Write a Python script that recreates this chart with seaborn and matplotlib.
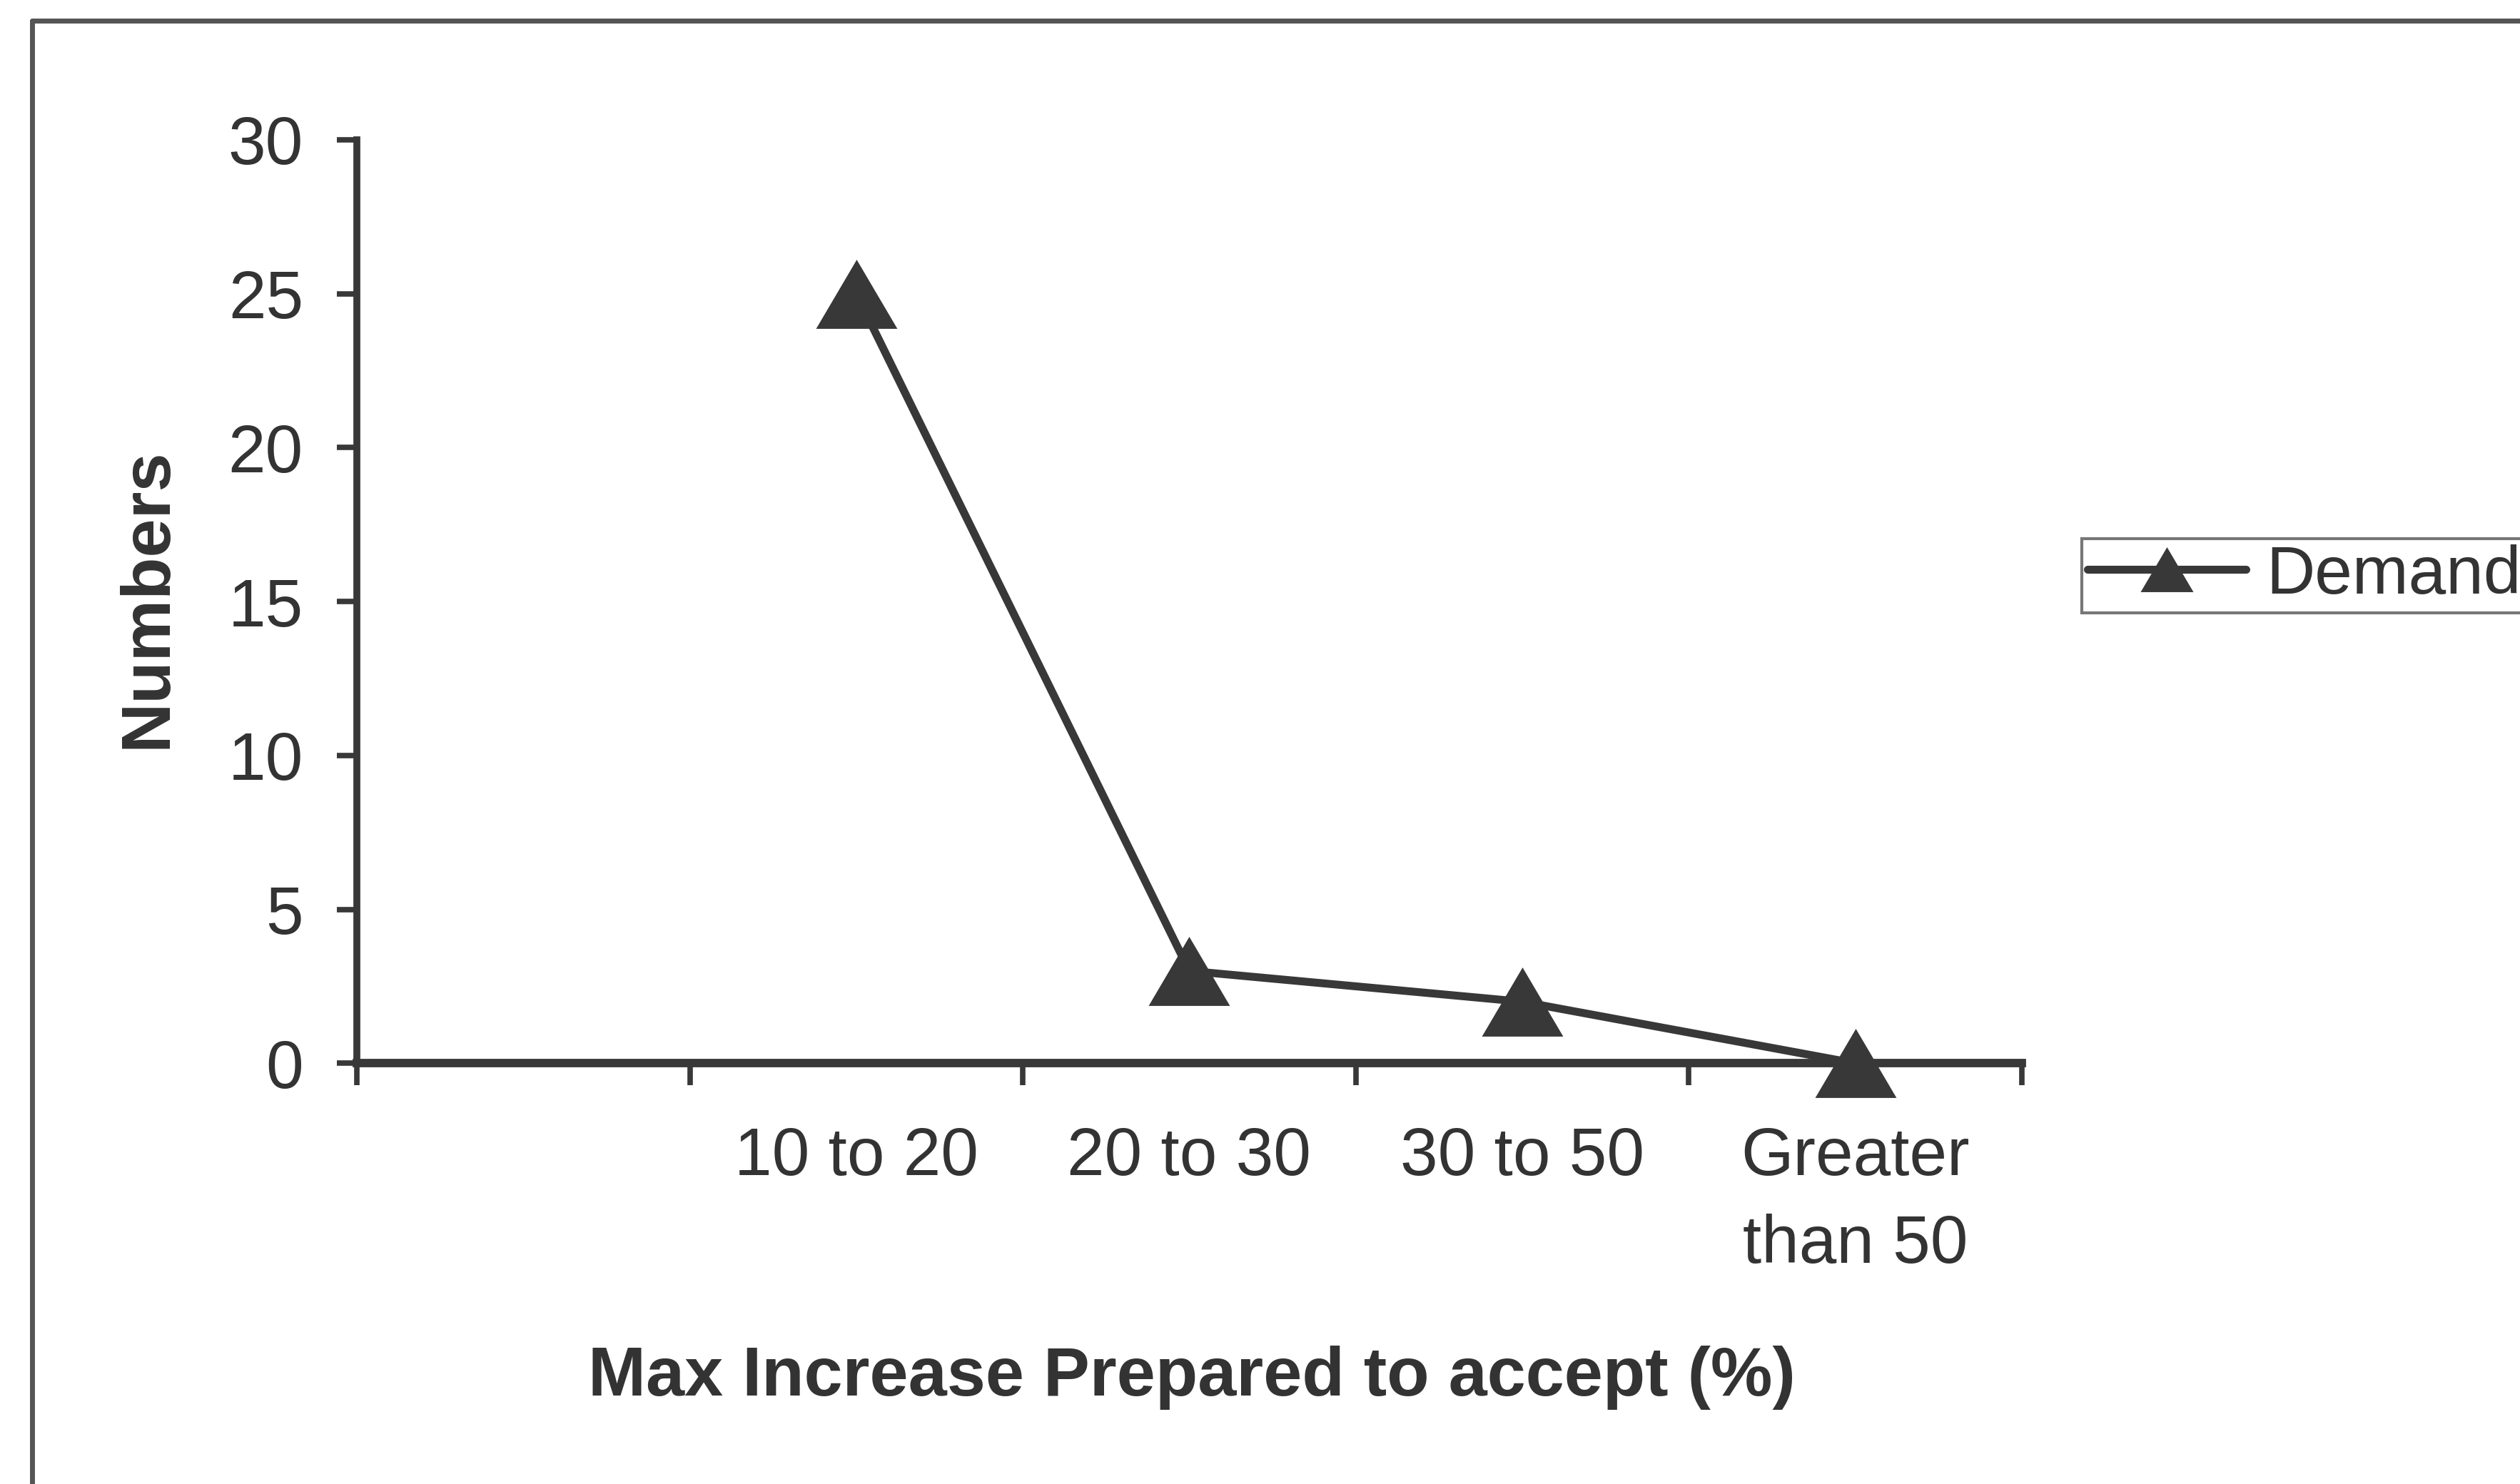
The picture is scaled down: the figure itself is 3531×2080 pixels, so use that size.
import numpy as np
import pandas as pd
import matplotlib
matplotlib.use("Agg")
import matplotlib.pyplot as plt
from matplotlib.lines import Line2D
import seaborn as sns

# ---- data ----
categories = ["", "10 to 20", "20 to 30", "30 to 50", "Greater\nthan 50"]
demand = [np.nan, 25, 3, 2, 0]
series_name = "Demand"
y_ticks = [0, 5, 10, 15, 20, 25, 30]
x_label = "Max Increase Prepared to accept (%)"
y_label = "Numbers"

sns.set_theme(style="white")
plt.rcParams['font.family'] = ['Liberation Sans', 'DejaVu Sans']

LINE = "#383838"
TEXT = "#333333"

fig = plt.figure(figsize=(35.31, 20.80), dpi=100)
fig.patch.set_facecolor("white")
ax = fig.add_axes([0.1416, 0.2835, 0.6607, 0.6223])
ax.set_facecolor("white")

df = pd.DataFrame({"pos": np.arange(len(categories)), "value": demand,
                   "series": series_name})
tri = [(0, 0.85), (-1, -0.85), (1, -0.85)]
sns.lineplot(data=df, x="pos", y="value", hue="series", palette=[LINE],
             estimator=None, sort=False, marker=tri, markersize=82,
             markeredgewidth=0, linewidth=8, ax=ax, legend=True,
             clip_on=False, zorder=5)

ax.set_xlim(-0.5, len(categories) - 0.5)
ax.set_ylim(y_ticks[0], y_ticks[-1])
ax.set_yticks(y_ticks)
ax.set_xticks(np.arange(len(categories)))
ax.set_xticklabels(categories, linespacing=1.5)
ax.set_xticks(np.arange(len(categories) + 1) - 0.5, minor=True)

for s in ["top", "right"]:
    ax.spines[s].set_visible(False)
ax.spines["left"].set_color(LINE)
ax.spines["left"].set_linewidth(7)
ax.spines["bottom"].set_color(LINE)
ax.spines["bottom"].set_linewidth(8.5)

ax.tick_params(axis="x", which="major", length=0, pad=63, labelsize=68,
               labelcolor=TEXT)
ax.tick_params(axis="x", which="minor", length=22, width=5.5, color=LINE,
               direction="out", bottom=True)
ax.tick_params(axis="y", which="major", length=20, width=5.5, color=LINE,
               direction="out", left=True, pad=34, labelsize=68,
               labelcolor=TEXT)

ax.set_xlabel(x_label, fontsize=70, fontweight="bold", color=TEXT, va="center")
ax.set_ylabel(y_label, fontsize=70, fontweight="bold", color=TEXT, va="center")
ax.xaxis.set_label_coords(0.473, 0.0714, transform=fig.transFigure)
ax.yaxis.set_label_coords(0.0587, 0.597, transform=fig.transFigure)

handles, labels = ax.get_legend_handles_labels()
leg = ax.legend(handles, labels, loc="center left",
                bbox_to_anchor=(0.8262, 0.612), bbox_transform=fig.transFigure,
                borderaxespad=0, frameon=True, fancybox=False, shadow=False,
                fontsize=68, handlelength=2.35, handletextpad=0.3,
                borderpad=0.08, markerscale=0.65)
leg.get_frame().set_edgecolor("#555555")
leg.get_frame().set_linewidth(3)
for t in leg.get_texts():
    t.set_color(TEXT)

# outer frame (left and top edges of the scanned chart box)
fig.add_artist(Line2D([0.0128, 0.0128], [0.0, 0.986], transform=fig.transFigure,
                      color="#555555", linewidth=5))
fig.add_artist(Line2D([0.0128, 1.0], [0.986, 0.986], transform=fig.transFigure,
                      color="#555555", linewidth=5))

fig.savefig("out.png", dpi=100, facecolor="white")
